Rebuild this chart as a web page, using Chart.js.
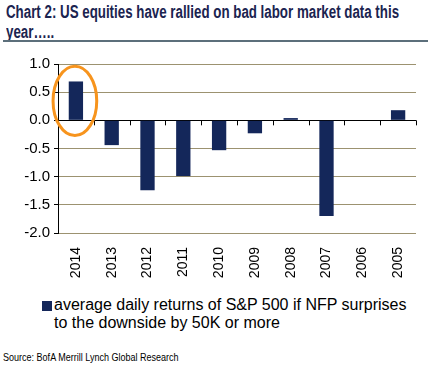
<!DOCTYPE html>
<html lang="en">
<head>
  <meta charset="UTF-8">
  <title>US equities and bad labor market data</title>
  <style>
    body {
      margin: 0;
      width: 428px;
      height: 370px;
      background: white;
      font-family: "Liberation Sans", Arial, sans-serif;
      position: relative;
      overflow: hidden;
    }
    .title {
      position: absolute;
      left: 6px;
      top: 2px;
      width: 600px;
      font-weight: bold;
      font-size: 18px;
      line-height: 20px;
      color: #1b2450;
      white-space: nowrap;
      transform: scaleX(0.74);
      transform-origin: left top;
    }
    .rule {
      position: absolute;
      left: 3px;
      top: 40px;
      width: 425px;
      height: 2px;
      background: #5c6f7b;
    }
    #wrap {
      position: absolute;
      left: 0;
      top: 0;
      width: 428px;
      height: 290px;
    }
    .legend {
      position: absolute;
      left: 54px;
      top: 296px;
      font-size: 16px;
      line-height: 18px;
      color: #000;
    }
    .legend .box {
      position: absolute;
      left: -12px;
      top: 5px;
      width: 10px;
      height: 10px;
      background: #14275a;
    }
    .source {
      position: absolute;
      left: 3px;
      top: 351px;
      font-size: 11px;
      color: #000;
      white-space: nowrap;
      transform: scaleX(0.82);
      transform-origin: left top;
    }
  </style>
</head>
<body>
  <div class="title">Chart 2: US equities have rallied on bad labor market data this<br>year…..</div>
  <div class="rule"></div>
  <div id="wrap"><canvas id="chart" width="428" height="290"></canvas></div>
  <div class="legend"><span class="box"></span>average daily returns of S&amp;P 500 if NFP surprises<br>to the downside by 50K or more</div>
  <div class="source">Source: BofA Merrill Lynch Global Research</div>

  <script src="https://cdn.jsdelivr.net/npm/chart.js@4.4.1/dist/chart.umd.min.js"></script>
  <script>
    const years = ['2014', '2013', '2012', '2011', '2010', '2009', '2008', '2007', '2006', '2005'];
    const returns = [0.69, -0.44, -1.24, -0.99, -0.53, -0.23, 0.04, -1.70, 0, 0.18];
    const yMin = -2.0;
    const yMax = 1.0;
    const yStep = 0.5;
    const highlighted = '2014';

    // little tick marks on the zero line between categories + orange ring
    const extras = {
      id: 'extras',
      afterDatasetsDraw(chart) {
        const ctx = chart.ctx;
        const x = chart.scales.x;
        const y = chart.scales.y;
        const zero = y.getPixelForValue(0);
        const half = (x.getPixelForValue(1) - x.getPixelForValue(0)) / 2;

        ctx.save();
        ctx.strokeStyle = '#000';
        ctx.lineWidth = 1;
        ctx.beginPath();
        for (let i = 0; i < years.length; i++) {
          const px = Math.round(x.getPixelForValue(i) + half) + 0.5;
          ctx.moveTo(px, zero);
          ctx.lineTo(px, zero + 5);
        }
        ctx.stroke();

        const idx = years.indexOf(highlighted);
        const cx = x.getPixelForValue(idx) - 1;
        const cy = y.getPixelForValue(returns[idx] / 2);
        ctx.strokeStyle = '#f7941d';
        ctx.lineWidth = 3;
        ctx.beginPath();
        ctx.ellipse(cx, cy, half * 1.22, (y.getPixelForValue(0) - y.getPixelForValue(1.23)) / 2, 0, 0, Math.PI * 2);
        ctx.stroke();
        ctx.restore();
      }
    };

    new Chart(document.getElementById('chart'), {
      type: 'bar',
      data: {
        labels: years,
        datasets: [{
          data: returns,
          backgroundColor: '#14275a',
          borderWidth: 0,
          barPercentage: 0.8,
          categoryPercentage: 0.5
        }]
      },
      options: {
        responsive: false,
        animation: false,
        layout: { padding: { top: 64, right: 12, left: 0, bottom: 0 } },
        plugins: {
          legend: { display: false },
          tooltip: { enabled: false }
        },
        scales: {
          x: {
            grid: { display: false },
            border: { display: false },
            afterFit(scale) { scale.height = 57; },
            ticks: {
              minRotation: 90,
              maxRotation: 90,
              padding: 6,
              color: '#000',
              font: { family: 'Liberation Sans', size: 14 }
            }
          },
          y: {
            min: yMin,
            max: yMax,
            afterFit(scale) { scale.width = 58; },
            border: { display: true, color: '#000', width: 1 },
            grid: {
              color: ctx => ctx.tick && ctx.tick.value === 0 ? '#000' : '#9c9270',
              tickColor: '#000',
              tickLength: 4,
              drawTicks: true
            },
            ticks: {
              stepSize: yStep,
              padding: 4,
              color: '#000',
              font: { family: 'Liberation Sans', size: 15 },
              callback: v => v.toFixed(1)
            }
          }
        }
      },
      plugins: [extras]
    });
  </script>
</body>
</html>
